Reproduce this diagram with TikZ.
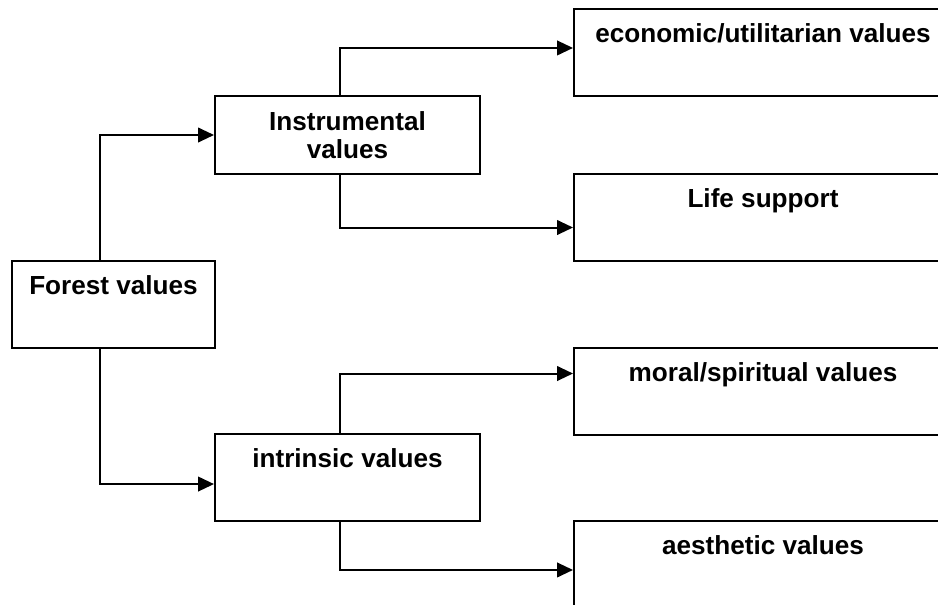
\documentclass[tikz,border=0pt]{standalone}
\usepackage{fontspec}
\setmainfont{Liberation Sans}
\usetikzlibrary{arrows.meta}

\begin{document}
\begin{tikzpicture}[x=0.75pt, y=-0.75pt,
    every node/.style={font=\bfseries\fontsize{19.6}{21.3}\selectfont},
    valbox/.style={draw, line width=1.5pt, inner sep=0pt, anchor=north west,
      text height=24.75pt, text depth=40.5pt},
    midbox/.style={draw, line width=1.5pt, inner sep=0pt, anchor=north west,
      align=center, minimum width=198.75pt, minimum height=58.5pt},
    conn/.style={line width=1.5pt, -{Triangle[length=12pt, width=11pt]}}]
    \path[use as bounding box, clip] (0,0) rectangle (938,604);

    % boxes
    \node[valbox, minimum width=152.25pt] (forest) at (11,260) {Forest values};
    \node[midbox] (instr) at (214,95) {Instrumental\\values};
    \node[valbox, minimum width=198.75pt] (intr) at (214,433) {intrinsic values};
    \node[valbox, minimum width=283.5pt] (econ) at (573,8) {economic/utilitarian values};
    \node[valbox, minimum width=283.5pt] (life) at (573,173) {Life support};
    \node[valbox, minimum width=283.5pt] (moral) at (573,347) {moral/spiritual values};
    \node[valbox, minimum width=283.5pt] (aest) at (573,520) {aesthetic values};

    % connectors
    \coordinate (fx) at (100,0);
    \coordinate (ix) at (340,0);
    \draw[conn] (forest.north -| fx) |- (instr.west);
    \draw[conn] (forest.south -| fx) |- ([yshift=-4.9pt]intr.west);
    \draw[conn] (instr.north -| ix) |- ([yshift=3.4pt]econ.west);
    \draw[conn] (instr.south -| ix) |- ([yshift=-7.5pt]life.west);
    \draw[conn] (intr.north -| ix) |- ([yshift=13.5pt]moral.west);
    \draw[conn] (intr.south -| ix) |- ([yshift=-4.1pt]aest.west);
\end{tikzpicture}
\end{document}
